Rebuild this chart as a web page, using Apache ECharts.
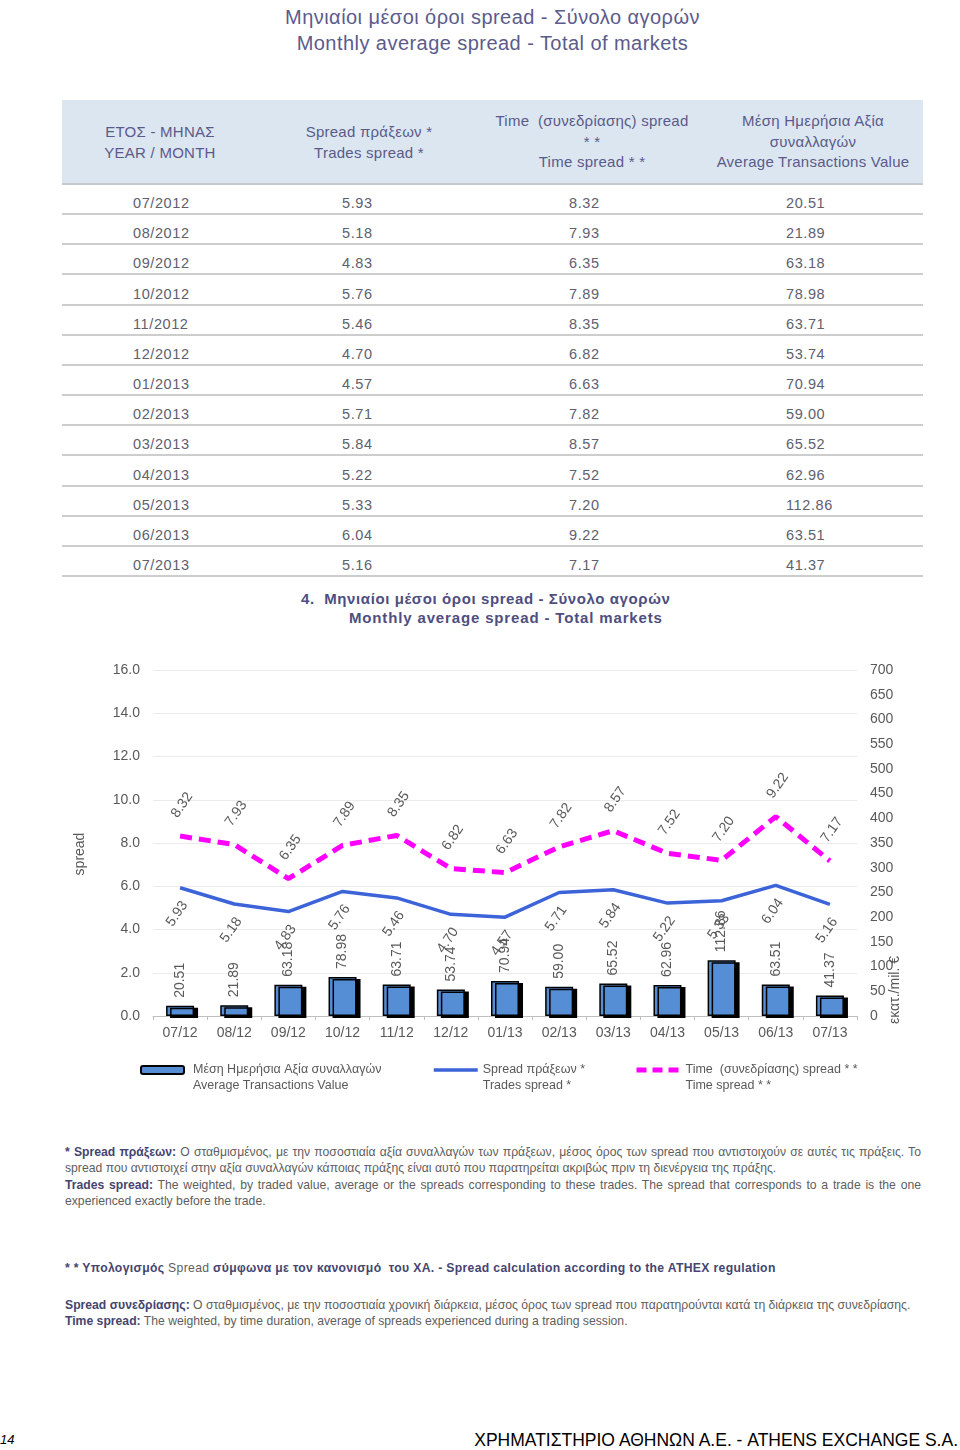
<!DOCTYPE html>
<html><head><meta charset="utf-8">
<script src="https://cdn.jsdelivr.net/npm/echarts@6/dist/echarts.min.js"></script>
<style>
body{margin:0;width:960px;height:1450px;position:relative;background:#fff;font-family:"Liberation Sans",Arial,sans-serif;overflow:hidden}
.a{position:absolute;white-space:nowrap}
.ttl{left:0;width:985px;text-align:center;font-size:20px;letter-spacing:0.45px;color:#5B5B8C;line-height:26px}
.hd{background:#DCE6F1;left:62px;top:100px;width:861px;height:83px;border-bottom:2px solid #C4C8CF}
.hc{width:260px;text-align:center;font-size:15px;letter-spacing:0.25px;color:#5A5A8A;line-height:20.5px}
.cell{font-size:14.5px;color:#60606E;letter-spacing:0.6px;line-height:18px}
.rl{left:62px;width:861px;height:2px;background:#CDCDCD}
.ct{font-weight:bold;font-size:15px;color:#4E4E80;letter-spacing:0.6px;line-height:19px}
.fn{left:65px;width:856px;font-family:"Liberation Sans",Arial,sans-serif;font-size:12.2px;color:#5E5E5E;line-height:16.4px}
.fn b{color:#45456F}
.j{text-align:justify;text-align-last:justify}
</style></head>
<body>
<div class="a ttl" style="top:4px">Μηνιαίοι μέσοι όροι spread - Σύνολο αγορών</div>
<div class="a ttl" style="top:30px">Monthly average spread - Total of markets</div>

<div class="a hd"></div>
<div class="a hc" style="left:30px;top:122px">ΕΤΟΣ - ΜΗΝΑΣ<br>YEAR / MONTH</div>
<div class="a hc" style="left:239px;top:121px;line-height:21px">Spread πράξεων *<br>Trades spread *</div>
<div class="a hc" style="left:462px;top:111px">Time &nbsp;(συνεδρίασης) spread<br>* *<br>Time spread * *</div>
<div class="a hc" style="left:683px;top:111px">Μέση Ημερήσια Αξία<br>συναλλαγών<br>Average Transactions Value</div>
<div id="rows"></div>

<div class="a ct" style="left:301px;top:589px">4.&nbsp; Μηνιαίοι μέσοι όροι spread - Σύνολο αγορών</div>
<div class="a ct" style="left:349px;top:608px;letter-spacing:0.85px">Monthly average spread - Total markets</div>

<div id="chart" class="a" style="left:0;top:640px;width:960px;height:470px"></div>

<div class="a fn j" style="top:1144px"><b>* Spread πράξεων:</b> Ο σταθμισμένος, με την ποσοστιαία αξία συναλλαγών των πράξεων, μέσος όρος των spread που αντιστοιχούν σε αυτές τις πράξεις. Το</div>
<div class="a fn" style="top:1160.4px">spread που αντιστοιχεί στην αξία συναλλαγών κάποιας πράξης είναι αυτό που παρατηρείται ακριβώς πριν τη διενέργεια της πράξης.</div>
<div class="a fn j" style="top:1176.8px"><b>Trades spread:</b> The weighted, by traded value, average or the spreads corresponding to these trades. The spread that corresponds to a trade is the one</div>
<div class="a fn" style="top:1193.2px">experienced exactly before the trade.</div>
<div class="a fn" style="top:1260px;letter-spacing:0.33px"><b>* * Υπολογισμός</b> Spread <b>σύμφωνα με τον κανονισμό &nbsp;του ΧΑ. - Spread calculation according to the ATHEX regulation</b></div>
<div class="a fn" style="top:1297px"><b>Spread συνεδρίασης:</b> Ο σταθμισμένος, με την ποσοστιαία χρονική διάρκεια, μέσος όρος των spread που παρατηρούνται κατά τη διάρκεια της συνεδρίασης.</div>
<div class="a fn" style="top:1313.4px"><b>Time spread:</b> The weighted, by time duration, average of spreads experienced during a trading session.</div>

<div class="a" style="left:0;top:1432px;font-size:13px;font-style:italic;color:#000;line-height:16px">14</div>
<div class="a" style="right:2px;top:1429px;font-size:17.5px;color:#000;line-height:22px">ΧΡΗΜΑΤΙΣΤΗΡΙΟ ΑΘΗΝΩΝ Α.Ε. - ATHENS EXCHANGE S.A.</div>

<script>
// ---- data ----
const months = ['07/2012','08/2012','09/2012','10/2012','11/2012','12/2012','01/2013','02/2013','03/2013','04/2013','05/2013','06/2013','07/2013'];
const categories = ['07/12','08/12','09/12','10/12','11/12','12/12','01/13','02/13','03/13','04/13','05/13','06/13','07/13'];
const tradesSpread = [5.93, 5.18, 4.83, 5.76, 5.46, 4.70, 4.57, 5.71, 5.84, 5.22, 5.33, 6.04, 5.16];
const timeSpread = [8.32, 7.93, 6.35, 7.89, 8.35, 6.82, 6.63, 7.82, 8.57, 7.52, 7.20, 9.22, 7.17];
const avgValue = [20.51, 21.89, 63.18, 78.98, 63.71, 53.74, 70.94, 59.00, 65.52, 62.96, 112.86, 63.51, 41.37];
const leftTicks = {min: 0, max: 16, interval: 2};
const rightTicks = {min: 0, max: 700, interval: 50};
const legendNames = {
  bar: ['Μέση Ημερήσια Αξία συναλλαγών', 'Average Transactions Value'],
  trades: ['Spread πράξεων *', 'Trades spread *'],
  time: ['Time  (συνεδρίασης) spread * *', 'Time spread * *']
};

// ---- table ----
const rowsEl = document.getElementById('rows');
const colLeft = [133, 342, 569, 786];
months.forEach((m, i) => {
  const T = 184 + 30.17 * i;
  const vals = [m, tradesSpread[i].toFixed(2), timeSpread[i].toFixed(2), avgValue[i].toFixed(2)];
  vals.forEach((v, c) => {
    const d = document.createElement('div');
    d.className = 'a cell';
    d.style.left = colLeft[c] + 'px';
    d.style.top = (T + 10) + 'px';
    d.textContent = v;
    rowsEl.appendChild(d);
  });
  const l = document.createElement('div');
  l.className = 'a rl';
  l.style.top = (T + 29) + 'px';
  rowsEl.appendChild(l);
});

// ---- chart ----
const GRAY = '#595959';
const FONT = 'Liberation Sans';
function rot(gx, gy, deg) {
  const t = deg * Math.PI / 180;
  return [gx * Math.cos(t) - gy * Math.sin(t), gx * Math.sin(t) + gy * Math.cos(t)];
}
const chart = echarts.init(document.getElementById('chart'));
const legendBase = {
  padding: 0, itemWidth: 44, itemHeight: 8, top: 406,
  textStyle: {color: GRAY, fontSize: 12.5, lineHeight: 16, fontFamily: FONT},
  formatter: n => ' \n' + legendNames[n][0] + '\n' + legendNames[n][1],
  selectedMode: false
};
chart.setOption({
  animation: false,
  grid: {left: 153, right: 103, top: 30, bottom: 94},
  legend: [
    Object.assign({}, legendBase, {data: ['bar'], left: 140, itemWidth: 43, textStyle: Object.assign({}, legendBase.textStyle, {padding: [0, 0, 0, 4]})}),
    Object.assign({}, legendBase, {data: ['trades'], left: 432, itemStyle: {color: 'rgba(0,0,0,0)', borderWidth: 0},
      lineStyle: {color: '#3C64D8', width: 3.5, type: 'solid'}}),
    Object.assign({}, legendBase, {data: ['time'], left: 634, itemStyle: {color: 'rgba(0,0,0,0)', borderWidth: 0},
      lineStyle: {color: '#FF00FF', width: 5, type: [10, 6]}})
  ],
  xAxis: {
    type: 'category', data: categories, boundaryGap: true,
    axisLine: {lineStyle: {color: '#BFBFBF'}},
    axisTick: {show: true, length: 4, lineStyle: {color: '#BFBFBF'}},
    axisLabel: {color: GRAY, fontSize: 14, margin: 10, fontFamily: FONT}
  },
  yAxis: [
    {type: 'value', min: leftTicks.min, max: leftTicks.max, interval: leftTicks.interval,
     name: 'spread', nameLocation: 'middle', nameGap: 66, nameRotate: 90,
     nameTextStyle: {color: GRAY, fontSize: 14, fontFamily: FONT, padding: [0, 0, 0, -22]},
     axisLine: {show: false}, axisTick: {show: false},
     axisLabel: {color: GRAY, fontSize: 14, margin: 13, fontFamily: FONT, formatter: v => v.toFixed(1)},
     splitLine: {lineStyle: {color: '#EBEBEB'}}},
    {type: 'value', min: rightTicks.min, max: rightTicks.max, interval: rightTicks.interval,
     axisLine: {show: false}, axisTick: {show: false},
     axisLabel: {color: GRAY, fontSize: 14, margin: 13, fontFamily: FONT},
     splitLine: {show: false}}
  ],
  graphic: [{type: 'text', x: 895, y: 350, rotation: Math.PI / 2,
    style: {text: 'εκατ./mil. €', fill: GRAY, fontSize: 14, fontFamily: FONT, align: 'center', verticalAlign: 'middle'}}],
  series: [
    {name: 'bar', type: 'bar', yAxisIndex: 1, data: avgValue, barWidth: 28, z: 1,
     itemStyle: {color: '#558ED5', borderColor: '#000', borderWidth: 1.5, shadowColor: '#000', shadowOffsetX: 4, shadowOffsetY: 2, shadowBlur: 0},
     label: {show: true, position: 'top', distance: 8, rotate: 90, align: 'left', verticalAlign: 'middle',
       color: GRAY, fontSize: 14, fontFamily: FONT, formatter: p => p.value.toFixed(2)}},
    {name: 'trades', type: 'line', data: tradesSpread, symbol: 'circle', symbolSize: 0, z: 3,
     lineStyle: {color: '#3C64D8', width: 3.5}, itemStyle: {color: '#3C64D8'},
     label: {show: true, position: 'inside', rotate: 55, align: 'center', verticalAlign: 'middle', offset: rot(-3, 26, 55),
       color: GRAY, fontSize: 14, fontFamily: FONT, formatter: p => p.value.toFixed(2)}},
    {name: 'time', type: 'line', data: timeSpread, symbol: 'circle', symbolSize: 0, z: 4,
     lineStyle: {color: '#FF00FF', width: 5, type: [12, 7]}, itemStyle: {color: '#FF00FF'},
     label: {show: true, position: 'inside', rotate: 55, align: 'center', verticalAlign: 'middle', offset: rot(2, -31, 55),
       color: GRAY, fontSize: 14, fontFamily: FONT, formatter: p => p.value.toFixed(2)}}
  ]
});
</script>
</body></html>
